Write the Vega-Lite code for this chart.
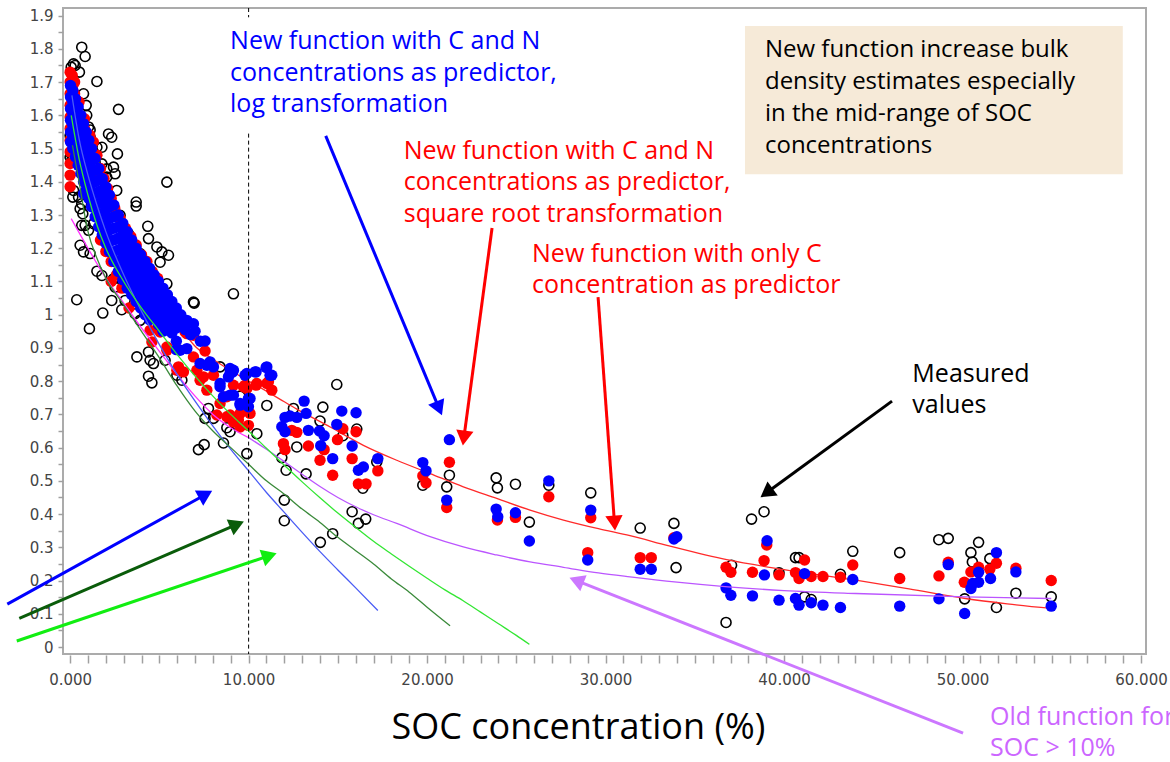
{
  "$schema": "https://vega.github.io/schema/vega-lite/v6.json",
  "width": 1083,
  "height": 646,
  "autosize": {"type": "none"},
  "padding": {"left": 63, "top": 8, "right": 24, "bottom": 108},
  "background": "white",
  "config": {"view": {"stroke": "#ababab", "strokeWidth": 2}},
  "datasets": {
    "measured": [
      {"soc":0.65,"bd":1.805},{"soc":0.84,"bd":1.777},{"soc":0.19,"bd":1.755},{"soc":0.06,"bd":1.745},{"soc":0.28,"bd":1.75},{"soc":0.52,"bd":1.73},{"soc":1.50,"bd":1.702},{"soc":2.71,"bd":1.618},{"soc":0.75,"bd":1.665},{"soc":0.90,"bd":1.630},{"soc":0.93,"bd":1.600},{"soc":1.12,"bd":1.556},{"soc":1.03,"bd":1.565},{"soc":1.12,"bd":1.534},{"soc":0.0,"bd":1.539},{"soc":2.15,"bd":1.544},{"soc":2.33,"bd":1.534},{"soc":2.65,"bd":1.484},{"soc":1.50,"bd":1.504},{"soc":1.78,"bd":1.504},{"soc":1.40,"bd":1.459},{"soc":1.78,"bd":1.454},{"soc":2.05,"bd":1.439},{"soc":2.43,"bd":1.444},{"soc":2.52,"bd":1.424},{"soc":2.61,"bd":1.374},{"soc":2.05,"bd":1.414},{"soc":5.42,"bd":1.399},{"soc":3.70,"bd":1.339},{"soc":3.70,"bd":1.327},{"soc":2.80,"bd":1.299},{"soc":4.35,"bd":1.266},{"soc":0.06,"bd":1.484},{"soc":0.09,"bd":1.464},{"soc":0.0,"bd":1.474},{"soc":0.19,"bd":1.374},{"soc":0.15,"bd":1.354},{"soc":0.47,"bd":1.354},{"soc":0.65,"bd":1.334},{"soc":0.56,"bd":1.319},{"soc":0.71,"bd":1.304},{"soc":0.84,"bd":1.269},{"soc":1.03,"bd":1.254},{"soc":0.65,"bd":1.269},{"soc":1.31,"bd":1.274},{"soc":3.27,"bd":1.243},{"soc":4.39,"bd":1.229},{"soc":4.86,"bd":1.204},{"soc":5.14,"bd":1.189},{"soc":5.51,"bd":1.179},{"soc":5.04,"bd":1.158},{"soc":0.56,"bd":1.209},{"soc":0.75,"bd":1.189},{"soc":1.12,"bd":1.184},{"soc":1.50,"bd":1.131},{"soc":1.78,"bd":1.118},{"soc":2.43,"bd":1.108},{"soc":2.52,"bd":1.083},{"soc":3.55,"bd":1.063},{"soc":4.11,"bd":1.083},{"soc":4.58,"bd":1.063},{"soc":4.95,"bd":1.053},{"soc":5.42,"bd":1.093},{"soc":3.92,"bd":1.184},{"soc":9.15,"bd":1.063},{"soc":6.95,"bd":1.035},{"soc":0.37,"bd":1.045},{"soc":1.83,"bd":1.005},{"soc":2.33,"bd":1.043},{"soc":3.08,"bd":1.043},{"soc":2.89,"bd":1.015},{"soc":3.64,"bd":1.003},{"soc":1.08,"bd":0.958},{"soc":6.91,"bd":1.038},{"soc":3.92,"bd":0.983},{"soc":3.74,"bd":0.873},{"soc":4.39,"bd":0.888},{"soc":4.48,"bd":0.863},{"soc":4.67,"bd":0.853},{"soc":5.32,"bd":0.863},{"soc":4.39,"bd":0.815},{"soc":4.58,"bd":0.795},{"soc":5.98,"bd":0.818},{"soc":6.26,"bd":0.803},{"soc":7.75,"bd":0.718},{"soc":7.56,"bd":0.688},{"soc":7.19,"bd":0.594},{"soc":7.51,"bd":0.609},{"soc":8.59,"bd":0.614},{"soc":8.78,"bd":0.660},{"soc":8.96,"bd":0.648},{"soc":8.40,"bd":0.843},{"soc":9.52,"bd":0.755},{"soc":8.03,"bd":0.688},{"soc":9.90,"bd":0.582},{"soc":10.46,"bd":0.642},
      {"soc":11.02,"bd":0.727},{"soc":12.51,"bd":0.718},{"soc":14.16,"bd":0.722},{"soc":14.0,"bd":0.680},{"soc":14.94,"bd":0.790},{"soc":16.06,"bd":0.656},{"soc":15.28,"bd":0.636},{"soc":12.70,"bd":0.602},{"soc":11.86,"bd":0.570},{"soc":12.10,"bd":0.532},{"soc":13.22,"bd":0.521},{"soc":16.4,"bd":0.478},{"soc":17.18,"bd":0.557},{"soc":12.0,"bd":0.442},{"soc":12.0,"bd":0.380},{"soc":15.8,"bd":0.407},{"soc":16.15,"bd":0.372},{"soc":16.56,"bd":0.385},{"soc":14.71,"bd":0.341},{"soc":14.02,"bd":0.315},{"soc":19.76,"bd":0.487},{"soc":21.10,"bd":0.482},{"soc":21.25,"bd":0.517},{"soc":23.87,"bd":0.509},{"soc":23.94,"bd":0.479},{"soc":24.95,"bd":0.490},{"soc":26.82,"bd":0.487},{"soc":25.73,"bd":0.376},{"soc":29.17,"bd":0.464},{"soc":31.94,"bd":0.358},{"soc":33.83,"bd":0.372},{"soc":33.95,"bd":0.239},{"soc":38.18,"bd":0.385},{"soc":38.88,"bd":0.407},{"soc":37.06,"bd":0.246},{"soc":36.75,"bd":0.074},{"soc":39.72,"bd":0.223},{"soc":40.64,"bd":0.269},{"soc":40.84,"bd":0.269},{"soc":41.15,"bd":0.151},{"soc":41.52,"bd":0.143},{"soc":43.16,"bd":0.219},{"soc":43.85,"bd":0.288},{"soc":46.48,"bd":0.284},{"soc":48.67,"bd":0.323},{"soc":49.2,"bd":0.327},{"soc":50.47,"bd":0.284},{"soc":50.90,"bd":0.315},{"soc":50.55,"bd":0.256},{"soc":50.12,"bd":0.145},{"soc":51.53,"bd":0.266},{"soc":51.9,"bd":0.119},{"soc":52.99,"bd":0.162},{"soc":54.97,"bd":0.151}
    ],
    "sqrt": [
      {"soc":0.0,"bd":1.73},{"soc":0.0,"bd":1.70},{"soc":0.0,"bd":1.665},{"soc":0.0,"bd":1.63},{"soc":0.0,"bd":1.595},{"soc":0.0,"bd":1.56},{"soc":0.0,"bd":1.525},{"soc":0.0,"bd":1.49},{"soc":0.0,"bd":1.455},{"soc":0.0,"bd":1.42},{"soc":0.0,"bd":1.385},
      {"soc":0.12,"bd":1.72},{"soc":0.12,"bd":1.685},{"soc":0.12,"bd":1.65},{"soc":0.25,"bd":1.70},{"soc":0.25,"bd":1.665},{"soc":0.5,"bd":1.64},{"soc":0.5,"bd":1.60},{"soc":0.8,"bd":1.59},{"soc":0.8,"bd":1.56},{"soc":1.1,"bd":1.54},{"soc":1.1,"bd":1.50},{"soc":1.3,"bd":1.52},{"soc":1.5,"bd":1.48},{"soc":1.5,"bd":1.42},{"soc":1.7,"bd":1.44},{"soc":1.7,"bd":1.37},{"soc":1.9,"bd":1.41},{"soc":1.9,"bd":1.36},{"soc":2.1,"bd":1.38},{"soc":2.3,"bd":1.35},{"soc":2.5,"bd":1.32},{"soc":2.8,"bd":1.29},{"soc":3.1,"bd":1.26},{"soc":3.4,"bd":1.235},{"soc":3.7,"bd":1.21},{"soc":4.0,"bd":1.18},{"soc":4.3,"bd":1.16},{"soc":4.6,"bd":1.13},{"soc":4.9,"bd":1.11},{"soc":5.2,"bd":1.055},
      {"soc":1.7,"bd":1.225},{"soc":2.0,"bd":1.19},{"soc":2.3,"bd":1.16},{"soc":2.3,"bd":1.10},{"soc":2.6,"bd":1.12},{"soc":2.9,"bd":1.08},{"soc":3.3,"bd":1.02},{"soc":3.7,"bd":1.04},{"soc":4.1,"bd":1.02},{"soc":4.48,"bd":0.953},{"soc":5.04,"bd":0.948},{"soc":4.58,"bd":0.918},{"soc":5.42,"bd":0.903},{"soc":6.07,"bd":0.843},{"soc":6.35,"bd":0.828},{"soc":6.91,"bd":0.873},{"soc":7.1,"bd":0.833},{"soc":6.91,"bd":0.938},{"soc":6.44,"bd":0.948},{"soc":7.56,"bd":0.891},{"soc":5.42,"bd":0.893},{"soc":5.98,"bd":0.833},{"soc":6.54,"bd":0.943},{"soc":7.47,"bd":0.813},{"soc":8.03,"bd":0.818},{"soc":7.28,"bd":0.803},{"soc":7.66,"bd":0.773},{"soc":8.40,"bd":0.733},{"soc":8.78,"bd":0.753},{"soc":9.15,"bd":0.788},{"soc":8.96,"bd":0.698},{"soc":9.52,"bd":0.662},{"soc":9.99,"bd":0.667},{"soc":9.90,"bd":0.778},{"soc":8.22,"bd":0.698},{"soc":9.15,"bd":0.677},{"soc":8.78,"bd":0.693},{"soc":9.43,"bd":0.683},{"soc":9.71,"bd":0.783},{"soc":10.46,"bd":0.793},{"soc":11.11,"bd":0.798},{"soc":11.3,"bd":0.773},
      {"soc":9.80,"bd":0.788},{"soc":10.42,"bd":0.788},{"soc":11.02,"bd":0.793},{"soc":9.52,"bd":0.703},{"soc":10.08,"bd":0.703},{"soc":12.42,"bd":0.652},{"soc":12.70,"bd":0.646},{"soc":11.95,"bd":0.612},{"soc":12.04,"bd":0.594},{"soc":13.35,"bd":0.605},{"soc":14.0,"bd":0.562},{"soc":14.23,"bd":0.594},{"soc":14.98,"bd":0.624},{"soc":15.28,"bd":0.657},{"soc":16.02,"bd":0.648},{"soc":15.80,"bd":0.567},{"soc":14.71,"bd":0.517},{"soc":16.15,"bd":0.491},{"soc":16.58,"bd":0.491},{"soc":17.24,"bd":0.530},{"soc":19.76,"bd":0.515},{"soc":19.94,"bd":0.494},{"soc":21.25,"bd":0.556},{"soc":21.10,"bd":0.420},{"soc":23.94,"bd":0.382},{"soc":24.95,"bd":0.390},{"soc":26.82,"bd":0.452},{"soc":29.17,"bd":0.389},{"soc":29.0,"bd":0.284},
      {"soc":31.94,"bd":0.269},{"soc":32.56,"bd":0.269},{"soc":33.83,"bd":0.329},{"soc":36.75,"bd":0.240},{"soc":37.02,"bd":0.225},{"soc":38.23,"bd":0.225},{"soc":38.88,"bd":0.260},{"soc":39.03,"bd":0.307},{"soc":39.72,"bd":0.217},{"soc":40.64,"bd":0.224},{"soc":40.84,"bd":0.206},{"soc":41.15,"bd":0.262},{"soc":41.52,"bd":0.212},{"soc":42.18,"bd":0.212},{"soc":43.16,"bd":0.210},{"soc":43.85,"bd":0.247},{"soc":46.48,"bd":0.206},{"soc":48.68,"bd":0.214},{"soc":49.2,"bd":0.255},{"soc":50.10,"bd":0.195},{"soc":50.47,"bd":0.226},{"soc":50.90,"bd":0.240},{"soc":51.53,"bd":0.234},{"soc":51.9,"bd":0.252},{"soc":52.99,"bd":0.237},{"soc":54.97,"bd":0.200}
    ],
    "log": [
      {"soc":0.02,"bd":1.69},{"soc":0.02,"bd":1.655},{"soc":0.02,"bd":1.62},{"soc":0.02,"bd":1.585},{"soc":0.02,"bd":1.55},{"soc":0.02,"bd":1.52},
      {"soc":0.15,"bd":1.675},{"soc":0.15,"bd":1.64},{"soc":0.15,"bd":1.605},{"soc":0.15,"bd":1.57},{"soc":0.15,"bd":1.535},{"soc":0.15,"bd":1.50},
      {"soc":0.3,"bd":1.65},{"soc":0.3,"bd":1.615},{"soc":0.3,"bd":1.58},{"soc":0.3,"bd":1.545},{"soc":0.3,"bd":1.51},{"soc":0.3,"bd":1.475},
      {"soc":0.45,"bd":1.625},{"soc":0.45,"bd":1.59},{"soc":0.45,"bd":1.555},{"soc":0.45,"bd":1.52},{"soc":0.45,"bd":1.485},{"soc":0.45,"bd":1.45},
      {"soc":0.6,"bd":1.60},{"soc":0.6,"bd":1.565},{"soc":0.6,"bd":1.53},{"soc":0.6,"bd":1.495},{"soc":0.6,"bd":1.46},{"soc":0.6,"bd":1.425},
      {"soc":0.75,"bd":1.575},{"soc":0.75,"bd":1.54},{"soc":0.75,"bd":1.505},{"soc":0.75,"bd":1.47},{"soc":0.75,"bd":1.435},{"soc":0.75,"bd":1.40},{"soc":0.75,"bd":1.365},
      {"soc":0.9,"bd":1.55},{"soc":0.9,"bd":1.515},{"soc":0.9,"bd":1.48},{"soc":0.9,"bd":1.445},{"soc":0.9,"bd":1.41},{"soc":0.9,"bd":1.375},
      {"soc":1.05,"bd":1.525},{"soc":1.05,"bd":1.49},{"soc":1.05,"bd":1.455},{"soc":1.05,"bd":1.42},{"soc":1.05,"bd":1.385},{"soc":1.05,"bd":1.35},
      {"soc":1.2,"bd":1.50},{"soc":1.2,"bd":1.465},{"soc":1.2,"bd":1.43},{"soc":1.2,"bd":1.395},{"soc":1.2,"bd":1.36},{"soc":1.2,"bd":1.325},
      {"soc":1.4,"bd":1.47},{"soc":1.4,"bd":1.435},{"soc":1.4,"bd":1.40},{"soc":1.4,"bd":1.365},{"soc":1.4,"bd":1.33},{"soc":1.4,"bd":1.295},
      {"soc":1.6,"bd":1.44},{"soc":1.6,"bd":1.405},{"soc":1.6,"bd":1.37},{"soc":1.6,"bd":1.335},{"soc":1.6,"bd":1.30},{"soc":1.6,"bd":1.265},
      {"soc":1.8,"bd":1.41},{"soc":1.8,"bd":1.375},{"soc":1.8,"bd":1.34},{"soc":1.8,"bd":1.305},{"soc":1.8,"bd":1.27},{"soc":1.8,"bd":1.24},
      {"soc":2.0,"bd":1.385},{"soc":2.0,"bd":1.35},{"soc":2.0,"bd":1.315},{"soc":2.0,"bd":1.28},{"soc":2.0,"bd":1.245},{"soc":2.0,"bd":1.215},
      {"soc":2.2,"bd":1.36},{"soc":2.2,"bd":1.325},{"soc":2.2,"bd":1.29},{"soc":2.2,"bd":1.255},{"soc":2.2,"bd":1.22},{"soc":2.2,"bd":1.19},
      {"soc":2.45,"bd":1.33},{"soc":2.45,"bd":1.295},{"soc":2.45,"bd":1.26},{"soc":2.45,"bd":1.225},{"soc":2.45,"bd":1.19},{"soc":2.45,"bd":1.16},
      {"soc":2.7,"bd":1.30},{"soc":2.7,"bd":1.265},{"soc":2.7,"bd":1.23},{"soc":2.7,"bd":1.195},{"soc":2.7,"bd":1.16},{"soc":2.7,"bd":1.13},
      {"soc":2.95,"bd":1.275},{"soc":2.95,"bd":1.24},{"soc":2.95,"bd":1.205},{"soc":2.95,"bd":1.17},{"soc":2.95,"bd":1.135},{"soc":2.95,"bd":1.105},
      {"soc":3.2,"bd":1.25},{"soc":3.2,"bd":1.215},{"soc":3.2,"bd":1.18},{"soc":3.2,"bd":1.145},{"soc":3.2,"bd":1.11},{"soc":3.2,"bd":1.08},
      {"soc":3.45,"bd":1.225},{"soc":3.45,"bd":1.19},{"soc":3.45,"bd":1.155},{"soc":3.45,"bd":1.12},{"soc":3.45,"bd":1.085},{"soc":3.45,"bd":1.06},
      {"soc":3.7,"bd":1.20},{"soc":3.7,"bd":1.165},{"soc":3.7,"bd":1.13},{"soc":3.7,"bd":1.095},{"soc":3.7,"bd":1.065},{"soc":3.7,"bd":1.04},
      {"soc":3.95,"bd":1.18},{"soc":3.95,"bd":1.145},{"soc":3.95,"bd":1.11},{"soc":3.95,"bd":1.075},{"soc":3.95,"bd":1.045},{"soc":3.95,"bd":1.02},
      {"soc":4.2,"bd":1.16},{"soc":4.2,"bd":1.125},{"soc":4.2,"bd":1.09},{"soc":4.2,"bd":1.055},{"soc":4.2,"bd":1.025},{"soc":4.2,"bd":1.00},
      {"soc":4.45,"bd":1.14},{"soc":4.45,"bd":1.105},{"soc":4.45,"bd":1.07},{"soc":4.45,"bd":1.035},{"soc":4.45,"bd":1.005},{"soc":4.45,"bd":0.985},
      {"soc":4.7,"bd":1.12},{"soc":4.7,"bd":1.085},{"soc":4.7,"bd":1.05},{"soc":4.7,"bd":1.02},{"soc":4.7,"bd":0.99},
      {"soc":4.95,"bd":1.10},{"soc":4.95,"bd":1.065},{"soc":4.95,"bd":1.03},{"soc":4.95,"bd":1.00},{"soc":4.95,"bd":0.97},
      {"soc":5.2,"bd":1.08},{"soc":5.2,"bd":1.045},{"soc":5.2,"bd":1.01},{"soc":5.2,"bd":0.98},{"soc":5.2,"bd":0.95},
      {"soc":5.45,"bd":1.06},{"soc":5.45,"bd":1.025},{"soc":5.45,"bd":0.99},{"soc":5.45,"bd":0.96},
      {"soc":5.7,"bd":1.04},{"soc":5.7,"bd":1.005},{"soc":5.7,"bd":0.975},{"soc":5.7,"bd":0.945},
      {"soc":5.95,"bd":1.02},{"soc":5.95,"bd":0.99},{"soc":5.95,"bd":0.96},{"soc":5.95,"bd":0.92},{"soc":5.95,"bd":0.895},
      {"soc":6.2,"bd":1.00},{"soc":6.2,"bd":0.97},{"soc":6.45,"bd":0.955},{"soc":6.54,"bd":0.983},{"soc":6.54,"bd":0.898},{"soc":6.75,"bd":0.94},{"soc":6.91,"bd":0.973},{"soc":7.0,"bd":0.95},{"soc":6.16,"bd":0.893},{"soc":7.3,"bd":0.92},{"soc":7.56,"bd":0.921},{"soc":7.28,"bd":0.853},{"soc":7.66,"bd":0.848},{"soc":7.84,"bd":0.858},{"soc":8.03,"bd":0.843},{"soc":8.96,"bd":0.838},{"soc":8.96,"bd":0.823},{"soc":8.87,"bd":0.813},{"soc":8.40,"bd":0.793},{"soc":8.40,"bd":0.783},{"soc":8.59,"bd":0.753},{"soc":9.15,"bd":0.758},{"soc":9.15,"bd":0.833},{"soc":9.52,"bd":0.733},{"soc":9.80,"bd":0.818},{"soc":9.90,"bd":0.823},{"soc":9.99,"bd":0.723},{"soc":9.99,"bd":0.748},{"soc":10.36,"bd":0.828},{"soc":10.98,"bd":0.841},{"soc":11.2,"bd":0.818},
      {"soc":9.11,"bd":0.828},{"soc":10.42,"bd":0.828},{"soc":11.02,"bd":0.843},{"soc":11.30,"bd":0.818},{"soc":10.08,"bd":0.748},{"soc":8.96,"bd":0.758},{"soc":9.52,"bd":0.728},{"soc":13.11,"bd":0.740},{"soc":13.22,"bd":0.703},{"soc":12.04,"bd":0.691},{"soc":12.32,"bd":0.695},{"soc":12.70,"bd":0.691},{"soc":11.86,"bd":0.663},{"soc":12.04,"bd":0.648},{"soc":13.35,"bd":0.652},{"soc":13.97,"bd":0.650},{"soc":14.23,"bd":0.636},{"soc":14.04,"bd":0.606},{"soc":15.22,"bd":0.710},{"soc":16.02,"bd":0.705},{"soc":14.94,"bd":0.670},{"soc":15.80,"bd":0.605},{"soc":14.71,"bd":0.567},{"soc":16.15,"bd":0.532},{"soc":16.43,"bd":0.542},{"soc":17.24,"bd":0.567},{"soc":19.76,"bd":0.555},{"soc":19.94,"bd":0.530},{"soc":21.25,"bd":0.624},{"soc":21.10,"bd":0.442},{"soc":23.87,"bd":0.415},{"soc":23.96,"bd":0.392},{"soc":24.95,"bd":0.404},{"soc":26.82,"bd":0.500},{"soc":25.73,"bd":0.319},{"soc":29.17,"bd":0.412},{"soc":29.0,"bd":0.262},
      {"soc":31.94,"bd":0.234},{"soc":32.56,"bd":0.234},{"soc":33.83,"bd":0.325},{"soc":33.99,"bd":0.332},{"soc":36.75,"bd":0.178},{"soc":37.02,"bd":0.156},{"soc":38.23,"bd":0.154},{"soc":38.90,"bd":0.217},{"soc":39.05,"bd":0.320},{"soc":39.72,"bd":0.141},{"soc":40.64,"bd":0.146},{"soc":40.84,"bd":0.126},{"soc":41.15,"bd":0.221},{"soc":41.52,"bd":0.133},{"soc":42.18,"bd":0.126},{"soc":43.16,"bd":0.119},{"soc":43.85,"bd":0.203},{"soc":46.48,"bd":0.123},{"soc":48.68,"bd":0.145},{"soc":49.2,"bd":0.248},{"soc":50.12,"bd":0.101},{"soc":50.47,"bd":0.176},{"soc":50.57,"bd":0.191},{"soc":50.90,"bd":0.225},{"soc":50.90,"bd":0.195},{"soc":51.57,"bd":0.206},{"soc":51.9,"bd":0.284},{"soc":52.99,"bd":0.226},{"soc":54.97,"bd":0.123}
    ],
    "curves": [
      {"curve":"onlyC","soc":0.05,"bd":1.72},{"curve":"onlyC","soc":0.3,"bd":1.65},{"curve":"onlyC","soc":0.6,"bd":1.58},{"curve":"onlyC","soc":1,"bd":1.50},{"curve":"onlyC","soc":1.5,"bd":1.42},{"curve":"onlyC","soc":2,"bd":1.35},{"curve":"onlyC","soc":2.5,"bd":1.29},{"curve":"onlyC","soc":3,"bd":1.23},{"curve":"onlyC","soc":3.5,"bd":1.18},{"curve":"onlyC","soc":4,"bd":1.13},{"curve":"onlyC","soc":4.5,"bd":1.09},{"curve":"onlyC","soc":5,"bd":1.05},{"curve":"onlyC","soc":5.5,"bd":1.01},{"curve":"onlyC","soc":6,"bd":0.975},{"curve":"onlyC","soc":7,"bd":0.905},{"curve":"onlyC","soc":8,"bd":0.866},{"curve":"onlyC","soc":9,"bd":0.832},{"curve":"onlyC","soc":10,"bd":0.80},{"curve":"onlyC","soc":11,"bd":0.77},{"curve":"onlyC","soc":12,"bd":0.738},{"curve":"onlyC","soc":12.7,"bd":0.716},{"curve":"onlyC","soc":14.57,"bd":0.662},{"curve":"onlyC","soc":16.43,"bd":0.607},{"curve":"onlyC","soc":18.3,"bd":0.562},{"curve":"onlyC","soc":20.17,"bd":0.522},{"curve":"onlyC","soc":22.03,"bd":0.482},{"curve":"onlyC","soc":23.9,"bd":0.447},{"curve":"onlyC","soc":25.77,"bd":0.412},{"curve":"onlyC","soc":27.64,"bd":0.382},{"curve":"onlyC","soc":29.6,"bd":0.356},{"curve":"onlyC","soc":31.37,"bd":0.335},{"curve":"onlyC","soc":33.5,"bd":0.305},{"curve":"onlyC","soc":36.86,"bd":0.262},{"curve":"onlyC","soc":40,"bd":0.233},{"curve":"onlyC","soc":44.02,"bd":0.201},{"curve":"onlyC","soc":47,"bd":0.175},{"curve":"onlyC","soc":50.16,"bd":0.146},{"curve":"onlyC","soc":52.5,"bd":0.13},{"curve":"onlyC","soc":54.97,"bd":0.116},
      {"curve":"oldLow","soc":0.06,"bd":1.289},{"curve":"oldLow","soc":1,"bd":1.20},{"curve":"oldLow","soc":2,"bd":1.11},{"curve":"oldLow","soc":3,"bd":1.035},{"curve":"oldLow","soc":4,"bd":0.96},{"curve":"oldLow","soc":5,"bd":0.89},{"curve":"oldLow","soc":6,"bd":0.82},{"curve":"oldLow","soc":7,"bd":0.755},{"curve":"oldLow","soc":8,"bd":0.70},{"curve":"oldLow","soc":9,"bd":0.66},{"curve":"oldLow","soc":10,"bd":0.63},
      {"curve":"oldHigh","soc":10,"bd":0.63},{"curve":"oldHigh","soc":11,"bd":0.595},{"curve":"oldHigh","soc":12,"bd":0.558},{"curve":"oldHigh","soc":13,"bd":0.52},{"curve":"oldHigh","soc":14,"bd":0.483},{"curve":"oldHigh","soc":15,"bd":0.45},{"curve":"oldHigh","soc":16,"bd":0.422},{"curve":"oldHigh","soc":17,"bd":0.398},{"curve":"oldHigh","soc":18.3,"bd":0.372},{"curve":"oldHigh","soc":20.17,"bd":0.332},{"curve":"oldHigh","soc":22.03,"bd":0.301},{"curve":"oldHigh","soc":23.9,"bd":0.277},{"curve":"oldHigh","soc":25.77,"bd":0.256},{"curve":"oldHigh","soc":27.64,"bd":0.240},{"curve":"oldHigh","soc":29.6,"bd":0.223},{"curve":"oldHigh","soc":31.37,"bd":0.211},{"curve":"oldHigh","soc":34,"bd":0.195},{"curve":"oldHigh","soc":36.86,"bd":0.181},{"curve":"oldHigh","soc":40,"bd":0.17},{"curve":"oldHigh","soc":44.02,"bd":0.161},{"curve":"oldHigh","soc":50.16,"bd":0.151},{"curve":"oldHigh","soc":54.97,"bd":0.146},
      {"curve":"oldBlue","soc":0.1,"bd":1.66},{"curve":"oldBlue","soc":0.5,"bd":1.53},{"curve":"oldBlue","soc":1,"bd":1.42},{"curve":"oldBlue","soc":1.5,"bd":1.33},{"curve":"oldBlue","soc":2,"bd":1.25},{"curve":"oldBlue","soc":3,"bd":1.12},{"curve":"oldBlue","soc":4,"bd":1.01},{"curve":"oldBlue","soc":5,"bd":0.91},{"curve":"oldBlue","soc":6,"bd":0.82},{"curve":"oldBlue","soc":7,"bd":0.74},{"curve":"oldBlue","soc":8,"bd":0.665},{"curve":"oldBlue","soc":9,"bd":0.595},{"curve":"oldBlue","soc":10,"bd":0.53},{"curve":"oldBlue","soc":11,"bd":0.465},{"curve":"oldBlue","soc":12,"bd":0.405},{"curve":"oldBlue","soc":13,"bd":0.345},{"curve":"oldBlue","soc":14,"bd":0.287},{"curve":"oldBlue","soc":15,"bd":0.232},{"curve":"oldBlue","soc":16,"bd":0.178},{"curve":"oldBlue","soc":17.24,"bd":0.11},
      {"curve":"oldDark","soc":0.13,"bd":1.51},{"curve":"oldDark","soc":0.5,"bd":1.40},{"curve":"oldDark","soc":1,"bd":1.25},{"curve":"oldDark","soc":1.5,"bd":1.17},{"curve":"oldDark","soc":2,"bd":1.11},{"curve":"oldDark","soc":3,"bd":1.03},{"curve":"oldDark","soc":4,"bd":0.95},{"curve":"oldDark","soc":5,"bd":0.87},{"curve":"oldDark","soc":6,"bd":0.785},{"curve":"oldDark","soc":7,"bd":0.71},{"curve":"oldDark","soc":8,"bd":0.65},{"curve":"oldDark","soc":9,"bd":0.60},{"curve":"oldDark","soc":10,"bd":0.55},{"curve":"oldDark","soc":11,"bd":0.50},{"curve":"oldDark","soc":12,"bd":0.46},{"curve":"oldDark","soc":13,"bd":0.415},{"curve":"oldDark","soc":14,"bd":0.375},{"curve":"oldDark","soc":15,"bd":0.33},{"curve":"oldDark","soc":16,"bd":0.29},{"curve":"oldDark","soc":17,"bd":0.25},{"curve":"oldDark","soc":18,"bd":0.205},{"curve":"oldDark","soc":19,"bd":0.165},{"curve":"oldDark","soc":20,"bd":0.12},{"curve":"oldDark","soc":21.29,"bd":0.064},
      {"curve":"oldLight","soc":0.06,"bd":1.60},{"curve":"oldLight","soc":0.5,"bd":1.47},{"curve":"oldLight","soc":1,"bd":1.36},{"curve":"oldLight","soc":1.5,"bd":1.27},{"curve":"oldLight","soc":2,"bd":1.20},{"curve":"oldLight","soc":3,"bd":1.10},{"curve":"oldLight","soc":4,"bd":1.02},{"curve":"oldLight","soc":5,"bd":0.95},{"curve":"oldLight","soc":6,"bd":0.88},{"curve":"oldLight","soc":7,"bd":0.815},{"curve":"oldLight","soc":8,"bd":0.755},{"curve":"oldLight","soc":9,"bd":0.70},{"curve":"oldLight","soc":10,"bd":0.65},{"curve":"oldLight","soc":11,"bd":0.598},{"curve":"oldLight","soc":12,"bd":0.547},{"curve":"oldLight","soc":13,"bd":0.497},{"curve":"oldLight","soc":14,"bd":0.449},{"curve":"oldLight","soc":15,"bd":0.403},{"curve":"oldLight","soc":16,"bd":0.36},{"curve":"oldLight","soc":17,"bd":0.318},{"curve":"oldLight","soc":18,"bd":0.28},{"curve":"oldLight","soc":19,"bd":0.243},{"curve":"oldLight","soc":20,"bd":0.207},{"curve":"oldLight","soc":21,"bd":0.172},{"curve":"oldLight","soc":22,"bd":0.14},{"curve":"oldLight","soc":23,"bd":0.105},{"curve":"oldLight","soc":24,"bd":0.07},{"curve":"oldLight","soc":25,"bd":0.035},{"curve":"oldLight","soc":25.73,"bd":0.008}
    ],
    "arrows": [
      {"id":"blueTop","x0":14.32,"y0":1.538,"x1":20.67,"y1":0.718},
      {"id":"redSqrt","x0":23.64,"y0":1.261,"x1":22.06,"y1":0.629},
      {"id":"redC","x0":29.58,"y0":1.053,"x1":30.50,"y1":0.373},
      {"id":"measured","x0":46.05,"y0":0.740,"x1":39.02,"y1":0.464},
      {"id":"old","x0":50.03,"y0":-0.259,"x1":28.37,"y1":0.200},
      {"id":"blueLeft","x0":-3.52,"y0":0.129,"x1":7.59,"y1":0.459},
      {"id":"darkGreen","x0":-2.85,"y0":0.0864,"x1":9.35,"y1":0.369},
      {"id":"lightGreen","x0":-2.99,"y0":0.018,"x1":11.17,"y1":0.275}
    ],
    "refline": [
      {"soc":10,"bd":1.923,"bd2":1.895},
      {"soc":10,"bd":1.545,"bd2":-0.021}
    ]
  },
  "layer": [
    {
      "data": {"name": "measured"},
      "mark": {"type": "point", "shape": "circle", "filled": false, "stroke": "#000000", "strokeWidth": 1.6, "size": 100, "opacity": 1},
      "encoding": {
        "x": {"field": "soc", "type": "quantitative",
          "scale": {"domain": [-0.4, 60.28], "nice": false, "zero": false},
          "axis": {"title": "SOC concentration (%)",
            "values": [0,1,2,3,4,5,6,7,8,9,10,11,12,13,14,15,16,17,18,19,20,21,22,23,24,25,26,27,28,29,30,31,32,33,34,35,36,37,38,39,40,41,42,43,44,45,46,47,48,49,50,51,52,53,54,55,56,57,58,59,60],
            "tickCount": 200,
            "labelExpr": "datum.value % 10 === 0 ? format(datum.value, '.3f') : ''",
            "domain": false, "grid": false, "offset": 1,
            "tickColor": "#a0a0a0", "tickSize": 8, "tickWidth": 1.5,
            "labelFont": "DejaVu Sans", "labelFontSize": 15, "labelColor": "#444444", "labelPadding": 9, "labelOverlap": false, "labelFlush": false,
            "titleFont": "Open Sans", "titleFontSize": 36, "titleFontWeight": "normal", "titleColor": "#000000",
            "titleX": 515, "titleY": 83, "titleBaseline": "alphabetic", "titleAlign": "center"}},
        "y": {"field": "bd", "type": "quantitative",
          "scale": {"domain": [-0.021, 1.923], "nice": false, "zero": false},
          "axis": {"title": null,
            "values": [0,0.05,0.1,0.15,0.2,0.25,0.3,0.35,0.4,0.45,0.5,0.55,0.6,0.65,0.7,0.75,0.8,0.85,0.9,0.95,1,1.05,1.1,1.15,1.2,1.25,1.3,1.35,1.4,1.45,1.5,1.55,1.6,1.65,1.7,1.75,1.8,1.85,1.9],
            "tickCount": 200,
            "labelExpr": "abs(datum.value*10 - round(datum.value*10)) < 0.001 ? format(datum.value, '.1~f') : ''",
            "domain": false, "grid": false,
            "tickColor": "#a0a0a0", "tickSize": 5, "tickWidth": 1.5,
            "labelFont": "DejaVu Sans", "labelFontSize": 15, "labelColor": "#444444", "labelPadding": 5, "labelOverlap": false}}
      }
    },
    {
      "data": {"name": "curves"},
      "transform": [{"filter": "datum.curve === 'onlyC'"}],
      "mark": {"type": "line", "strokeWidth": 1.3, "interpolate": "monotone", "color": "#ff2a2a"},
      "encoding": {"x": {"field": "soc", "type": "quantitative"}, "y": {"field": "bd", "type": "quantitative"}}
    },
    {
      "data": {"name": "sqrt"},
      "mark": {"type": "circle", "color": "#ff0000", "size": 130, "opacity": 1},
      "encoding": {"x": {"field": "soc", "type": "quantitative"}, "y": {"field": "bd", "type": "quantitative"}}
    },
    {
      "data": {"name": "log"},
      "mark": {"type": "circle", "color": "#0000ff", "size": 130, "opacity": 1},
      "encoding": {"x": {"field": "soc", "type": "quantitative"}, "y": {"field": "bd", "type": "quantitative"}}
    },
    {
      "data": {"name": "curves"},
      "transform": [{"filter": "datum.curve !== 'onlyC'"}],
      "mark": {"type": "line", "strokeWidth": 1.3, "interpolate": "monotone"},
      "encoding": {
        "x": {"field": "soc", "type": "quantitative"},
        "y": {"field": "bd", "type": "quantitative"},
        "color": {"field": "curve", "type": "nominal", "legend": null,
          "scale": {"domain": ["oldLight", "oldDark", "oldBlue", "oldLow", "oldHigh"], "range": ["#33e633", "#3a8a3a", "#4a5cf5", "#ff33ff", "#bb55ff"]}}
      }
    },
    {
      "data": {"name": "refline"},
      "mark": {"type": "rule", "color": "#000000", "strokeWidth": 1, "strokeDash": [4, 3]},
      "encoding": {"x": {"field": "soc", "type": "quantitative"}, "y": {"field": "bd", "type": "quantitative"}, "y2": {"field": "bd2"}}
    },
    {"data": {"name": "arrows"}, "transform": [{"filter": "datum.id === 'blueTop'"}], "mark": {"type": "rule", "color": "#0000ff", "strokeWidth": 3}, "encoding": {"x": {"field": "x0", "type": "quantitative"}, "y": {"field": "y0", "type": "quantitative"}, "x2": {"field": "x1"}, "y2": {"field": "y1"}}},
    {"data": {"name": "arrows"}, "transform": [{"filter": "datum.id === 'blueTop'"}], "mark": {"type": "point", "shape": "triangle-up", "filled": true, "color": "#0000ff", "opacity": 1, "size": 300, "angle": 157.4}, "encoding": {"x": {"field": "x1", "type": "quantitative"}, "y": {"field": "y1", "type": "quantitative"}}},
    {"data": {"name": "arrows"}, "transform": [{"filter": "datum.id === 'redSqrt'"}], "mark": {"type": "rule", "color": "#ff0000", "strokeWidth": 3}, "encoding": {"x": {"field": "x0", "type": "quantitative"}, "y": {"field": "y0", "type": "quantitative"}, "x2": {"field": "x1"}, "y2": {"field": "y1"}}},
    {"data": {"name": "arrows"}, "transform": [{"filter": "datum.id === 'redSqrt'"}], "mark": {"type": "point", "shape": "triangle-up", "filled": true, "color": "#ff0000", "opacity": 1, "size": 300, "angle": 187.6}, "encoding": {"x": {"field": "x1", "type": "quantitative"}, "y": {"field": "y1", "type": "quantitative"}}},
    {"data": {"name": "arrows"}, "transform": [{"filter": "datum.id === 'redC'"}], "mark": {"type": "rule", "color": "#ff0000", "strokeWidth": 3}, "encoding": {"x": {"field": "x0", "type": "quantitative"}, "y": {"field": "y0", "type": "quantitative"}, "x2": {"field": "x1"}, "y2": {"field": "y1"}}},
    {"data": {"name": "arrows"}, "transform": [{"filter": "datum.id === 'redC'"}], "mark": {"type": "point", "shape": "triangle-up", "filled": true, "color": "#ff0000", "opacity": 1, "size": 300, "angle": 175.8}, "encoding": {"x": {"field": "x1", "type": "quantitative"}, "y": {"field": "y1", "type": "quantitative"}}},
    {"data": {"name": "arrows"}, "transform": [{"filter": "datum.id === 'measured'"}], "mark": {"type": "rule", "color": "#000000", "strokeWidth": 3}, "encoding": {"x": {"field": "x0", "type": "quantitative"}, "y": {"field": "y0", "type": "quantitative"}, "x2": {"field": "x1"}, "y2": {"field": "y1"}}},
    {"data": {"name": "arrows"}, "transform": [{"filter": "datum.id === 'measured'"}], "mark": {"type": "point", "shape": "triangle-up", "filled": true, "color": "#000000", "opacity": 1, "size": 300, "angle": 233.8}, "encoding": {"x": {"field": "x1", "type": "quantitative"}, "y": {"field": "y1", "type": "quantitative"}}},
    {"data": {"name": "arrows"}, "transform": [{"filter": "datum.id === 'old'"}], "mark": {"type": "rule", "color": "#cc77ff", "strokeWidth": 3}, "encoding": {"x": {"field": "x0", "type": "quantitative"}, "y": {"field": "y0", "type": "quantitative"}, "x2": {"field": "x1"}, "y2": {"field": "y1"}}},
    {"data": {"name": "arrows"}, "transform": [{"filter": "datum.id === 'old'"}], "mark": {"type": "point", "shape": "triangle-up", "filled": true, "color": "#cc77ff", "opacity": 1, "size": 300, "angle": 291.5}, "encoding": {"x": {"field": "x1", "type": "quantitative"}, "y": {"field": "y1", "type": "quantitative"}}},
    {"data": {"name": "arrows"}, "transform": [{"filter": "datum.id === 'blueLeft'"}], "mark": {"type": "rule", "color": "#0000ff", "strokeWidth": 3}, "encoding": {"x": {"field": "x0", "type": "quantitative"}, "y": {"field": "y0", "type": "quantitative"}, "x2": {"field": "x1"}, "y2": {"field": "y1"}}},
    {"data": {"name": "arrows"}, "transform": [{"filter": "datum.id === 'blueLeft'"}], "mark": {"type": "point", "shape": "triangle-up", "filled": true, "color": "#0000ff", "opacity": 1, "size": 300, "angle": 61.1}, "encoding": {"x": {"field": "x1", "type": "quantitative"}, "y": {"field": "y1", "type": "quantitative"}}},
    {"data": {"name": "arrows"}, "transform": [{"filter": "datum.id === 'darkGreen'"}], "mark": {"type": "rule", "color": "#0a5c0a", "strokeWidth": 3}, "encoding": {"x": {"field": "x0", "type": "quantitative"}, "y": {"field": "y0", "type": "quantitative"}, "x2": {"field": "x1"}, "y2": {"field": "y1"}}},
    {"data": {"name": "arrows"}, "transform": [{"filter": "datum.id === 'darkGreen'"}], "mark": {"type": "point", "shape": "triangle-up", "filled": true, "color": "#0a5c0a", "opacity": 1, "size": 300, "angle": 66.7}, "encoding": {"x": {"field": "x1", "type": "quantitative"}, "y": {"field": "y1", "type": "quantitative"}}},
    {"data": {"name": "arrows"}, "transform": [{"filter": "datum.id === 'lightGreen'"}], "mark": {"type": "rule", "color": "#11ee11", "strokeWidth": 3}, "encoding": {"x": {"field": "x0", "type": "quantitative"}, "y": {"field": "y0", "type": "quantitative"}, "x2": {"field": "x1"}, "y2": {"field": "y1"}}},
    {"data": {"name": "arrows"}, "transform": [{"filter": "datum.id === 'lightGreen'"}], "mark": {"type": "point", "shape": "triangle-up", "filled": true, "color": "#11ee11", "opacity": 1, "size": 300, "angle": 71.3}, "encoding": {"x": {"field": "x1", "type": "quantitative"}, "y": {"field": "y1", "type": "quantitative"}}},
    {
      "data": {"values": [{}]},
      "mark": {"type": "rect", "color": "#f6ead8", "opacity": 1},
      "encoding": {"x": {"datum": 37.81}, "x2": {"datum": 58.98}, "y": {"datum": 1.869}, "y2": {"datum": 1.4225}}
    },
    {
      "data": {"values": [{}]},
      "mark": {"type": "text", "text": ["New function increase bulk", "density estimates especially", "in the mid-range of SOC", "concentrations"], "font": "Open Sans", "fontSize": 24, "lineHeight": 32, "align": "left", "baseline": "alphabetic", "color": "#000000"},
      "encoding": {"x": {"datum": 38.93}, "y": {"datum": 1.7746}}
    },
    {
      "data": {"values": [{}]},
      "mark": {"type": "text", "text": ["New function with C and N", "concentrations as predictor,", "log transformation"], "font": "Open Sans", "fontSize": 25, "lineHeight": 31.3, "align": "left", "baseline": "alphabetic", "color": "#0000ff"},
      "encoding": {"x": {"datum": 8.96}, "y": {"datum": 1.799}}
    },
    {
      "data": {"values": [{}]},
      "mark": {"type": "text", "text": ["New function with C and N", "concentrations as predictor,", "square root transformation"], "font": "Open Sans", "fontSize": 25, "lineHeight": 31.5, "align": "left", "baseline": "alphabetic", "color": "#ff0000"},
      "encoding": {"x": {"datum": 18.69}, "y": {"datum": 1.4686}}
    },
    {
      "data": {"values": [{}]},
      "mark": {"type": "text", "text": ["New function with only C", "concentration as predictor"], "font": "Open Sans", "fontSize": 25, "lineHeight": 31.5, "align": "left", "baseline": "alphabetic", "color": "#ff0000"},
      "encoding": {"x": {"datum": 25.88}, "y": {"datum": 1.1595}}
    },
    {
      "data": {"values": [{}]},
      "mark": {"type": "text", "text": ["Measured", "values"], "font": "Open Sans", "fontSize": 25, "lineHeight": 31.5, "align": "left", "baseline": "alphabetic", "color": "#000000"},
      "encoding": {"x": {"datum": 47.19}, "y": {"datum": 0.798}}
    },
    {
      "data": {"values": [{}]},
      "mark": {"type": "text", "text": ["Old function for", "SOC > 10%"], "font": "Open Sans", "fontSize": 25, "lineHeight": 31, "align": "left", "baseline": "alphabetic", "color": "#cc66ff"},
      "encoding": {"x": {"datum": 51.54}, "y": {"datum": -0.2347}}
    }
  ]
}
